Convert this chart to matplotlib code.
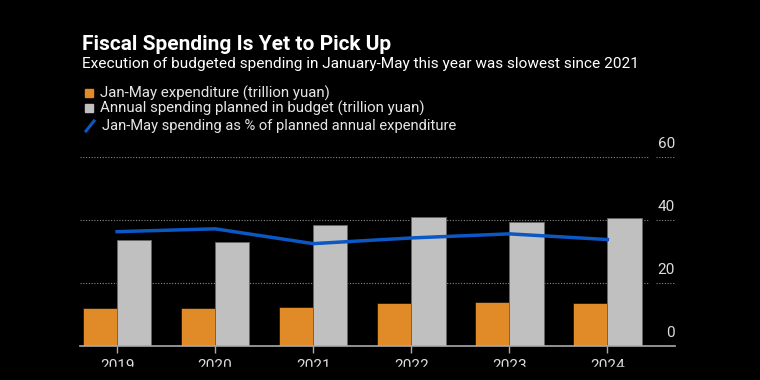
import numpy as np
import matplotlib.pyplot as plt
from matplotlib.lines import Line2D
from matplotlib.patches import Rectangle

years = ["2019", "2020", "2021", "2022", "2023", "2024"]
jan_may = [12.1, 12.2, 12.4, 13.8, 14.0, 13.7]
budget = [33.6, 33.1, 38.3, 40.8, 39.5, 40.7]
pct = [36.3, 37.2, 32.5, 34.3, 35.6, 33.8]
yticks = [0, 20, 40, 60]

orange = "#E08B28"
grey = "#C0C0C0"
blue = "#0B57C4"

plt.rcParams["font.family"] = ["Roboto", "DejaVu Sans"]

fig = plt.figure(figsize=(7.6, 3.8), dpi=100, facecolor="black")
ax = fig.add_axes([80 / 760, 1 - 346 / 380, 595 / 760, (346 - 157) / 380])
ax.set_facecolor("black")

x = np.arange(len(years))
w = 0.35
ax.bar(x - w / 2, jan_may, w, color=orange, edgecolor="black", linewidth=0.4, zorder=2)
ax.bar(x + w / 2, budget, w, color=grey, edgecolor="#666666", linewidth=0.6, zorder=2)
ax.plot(x, pct, color=blue, linewidth=2.5, zorder=3)

x0, x1 = -0.378, 5.69
ax.set_xlim(x0, x1)
ax.set_ylim(0, 60)

# dotted gridlines with a small break before the labels
for v in yticks[1:]:
    ax.hlines(v, x0, 5.42, colors="#8a8a8a", linestyles=(0, (1, 1.5)), linewidth=0.8, zorder=1)
    ax.hlines(v, 5.5, x1, colors="#8a8a8a", linestyles=(0, (1, 1.5)), linewidth=0.8, zorder=1)
for v in yticks:
    ax.annotate(str(v), xy=(1.0, v), xycoords=("axes fraction", "data"),
                xytext=(0, 4), textcoords="offset points",
                ha="right", va="bottom", color="#dddddd", fontsize=11)

for s in ["top", "right", "left"]:
    ax.spines[s].set_visible(False)
ax.spines["bottom"].set_color("#aaaaaa")
ax.spines["bottom"].set_linewidth(1.2)
ax.spines["bottom"].set_zorder(4)
ax.set_yticks([])
ax.set_xticks(x)
ax.set_xticklabels(years)
ax.tick_params(axis="x", colors="#aaaaaa", labelcolor="#dddddd", length=5,
               width=1, labelsize=11, pad=4)

# bottom edge of the chart hides the lower half of the year labels
fig.patches.append(Rectangle((0, 0), 1, 13 / 380, transform=fig.transFigure,
                             color="black", zorder=10))

# titles
fig.text(82 / 760, 1 - 45 / 380, "Fiscal Spending Is Yet to Pick Up", color="white",
         fontsize=15, fontweight="bold", va="center", ha="left")
fig.text(82 / 760, 1 - 64 / 380,
         "Execution of budgeted spending in January-May this year was slowest since 2021",
         color="white", fontsize=11.1, va="center", ha="left")

# legend
legend_items = [
    ("Jan-May expenditure (trillion yuan)", orange, 93),
    ("Annual spending planned in budget (trillion yuan)", grey, 108),
]
for label, c, yp in legend_items:
    fig.patches.append(Rectangle((85 / 760, 1 - (yp + 4) / 380), 8 / 760, 8 / 380,
                                 transform=fig.transFigure, color=c))
    fig.text(100 / 760, 1 - yp / 380, label, color="#e6e6e6", fontsize=10.8,
             va="center", ha="left")
fig.lines.append(Line2D([86 / 760, 94 / 760], [1 - 131 / 380, 1 - 121 / 380],
                        transform=fig.transFigure, color=blue, linewidth=2.2))
fig.text(102 / 760, 1 - 126 / 380, "Jan-May spending as % of planned annual expenditure",
         color="#e6e6e6", fontsize=10.6, va="center", ha="left")

fig.savefig("out.png", dpi=100, facecolor="black")
